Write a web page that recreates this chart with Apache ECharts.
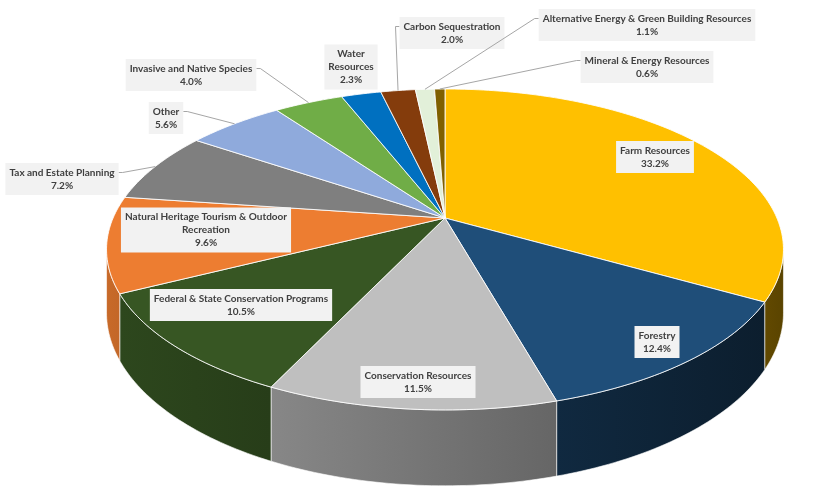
<!DOCTYPE html>
<html>
<head>
<meta charset="utf-8">
<script src="https://cdn.jsdelivr.net/npm/echarts@6/dist/echarts.min.js"></script>
<style>
  html, body { margin: 0; padding: 0; background: #fff; }
  #main { width: 837px; height: 501px; }
</style>
</head>
<body>
<div id="main"></div>
<script>
// 数据
var categories = ['Farm Resources', 'Forestry', 'Conservation Resources', 'Federal & State Conservation Programs',
  'Natural Heritage Tourism & Outdoor Recreation', 'Tax and Estate Planning', 'Other', 'Invasive and Native Species',
  'Water Resources', 'Carbon Sequestration', 'Alternative Energy & Green Building Resources', 'Mineral & Energy Resources'];
var shares = [33.2, 12.4, 11.5, 10.5, 9.6, 7.2, 5.6, 4.0, 2.3, 2.0, 1.1, 0.6];
var labelNames = ['Farm Resources', 'Forestry', 'Conservation Resources', 'Federal & State Conservation Programs',
  'Natural Heritage Tourism & Outdoor\nRecreation', 'Tax and Estate Planning', 'Other', 'Invasive and Native Species',
  'Water\nResources', 'Carbon Sequestration', 'Alternative Energy & Green Building Resources', 'Mineral & Energy Resources'];

// 样式
var colors = ['#FFC000', '#1F4E79', '#BFBFBF', '#375623', '#ED7D31', '#7F7F7F',
  '#8FAADC', '#70AD47', '#0070C0', '#843C0C', '#E2F0D9', '#7F6000'];
var labelPos = [[655, 157], [657, 342], [418, 382], [241, 305], [206, 230], [62, 179],
  [166, 118], [191, 75], [351, 67], [452, 33], [647, 25], [647, 67]];
var showLeader = [0, 0, 0, 0, 0, 1, 1, 1, 0, 1, 1, 1];
var FONT = 'bold 10px Lato, sans-serif';
var LINE_H = 13, PAD = [3, 4];

// 透视参数
var CX = 445, CY = 218, A = 331.9, B = 154.3, K = 0.196, D = 61;
var WALL_FROM = 101.3, WALL_TO = 258.7;

function proj(deg) {
  var r = deg * Math.PI / 180;
  var u = Math.sin(r), v = -Math.cos(r);
  var s = 1 / (1 - K * v);
  return { x: CX + A * u * s, y: CY + B * v * s, d: D * s, u: u };
}

function arc(a0, a1) {
  var pts = [];
  var n = Math.max(2, Math.ceil((a1 - a0) / 1));
  for (var j = 0; j <= n; j++) {
    pts.push(proj(a0 + (a1 - a0) * j / n));
  }
  return pts;
}

function shade(hex, f) {
  var c = parseInt(hex.slice(1), 16);
  var r = Math.round(((c >> 16) & 255) * f), g = Math.round(((c >> 8) & 255) * f), b = Math.round((c & 255) * f);
  return 'rgb(' + r + ',' + g + ',' + b + ')';
}

var total = shares.reduce(function (s, x) { return s + x; }, 0);
var seriesData = [];
var acc = 0;
for (var i = 0; i < shares.length; i++) {
  var a0 = acc / total * 360;
  acc += shares[i];
  seriesData.push({ name: categories[i], value: [shares[i], a0, acc / total * 360] });
}

var ctx = document.createElement('canvas').getContext('2d');
ctx.font = FONT;
function textWidth(t) {
  return Math.max.apply(null, t.split('\n').map(function (l) { return ctx.measureText(l).width; }));
}

function renderWall(params, api) {
  var i = params.dataIndex;
  var lo = Math.max(api.value(1), WALL_FROM), hi = Math.min(api.value(2), WALL_TO);
  if (lo >= hi) return { type: 'group', children: [] };
  var top = arc(lo, hi);
  var pts = top.map(function (p) { return [p.x, p.y]; });
  for (var j = top.length - 1; j >= 0; j--) pts.push([top[j].x, top[j].y + top[j].d]);
  var xs = pts.map(function (p) { return p[0]; });
  var x0 = Math.min.apply(null, xs), x1 = Math.max.apply(null, xs);
  var uL = Math.min(top[0].u, top[top.length - 1].u), uR = Math.max(top[0].u, top[top.length - 1].u);
  var grad = new echarts.graphic.LinearGradient(x0, 0, x1 + 0.01, 0, [
    { offset: 0, color: shade(colors[i], 0.6 - 0.25 * uL) },
    { offset: 1, color: shade(colors[i], 0.6 - 0.25 * uR) }
  ], true);
  return {
    type: 'polygon',
    shape: { points: pts },
    style: { fill: grad, stroke: 'rgba(255,255,255,0.75)', lineWidth: 0.8 }
  };
}

function renderTop(params, api) {
  var i = params.dataIndex;
  var pts = [[CX, CY]].concat(arc(api.value(1), api.value(2)).map(function (p) { return [p.x, p.y]; }));
  return {
    type: 'polygon',
    shape: { points: pts },
    style: { fill: colors[i], stroke: 'rgba(255,255,255,0.85)', lineWidth: 1 }
  };
}

function renderLabel(params, api) {
  var i = params.dataIndex;
  var txt = labelNames[i] + '\n' + api.value(0).toFixed(1) + '%';
  var pos = labelPos[i];
  var lines = txt.split('\n').length;
  var halfW = textWidth(txt) / 2 + PAD[1];
  var halfH = lines * LINE_H / 2 + PAD[0];
  var children = [];
  if (showLeader[i]) {
    var rim = proj((api.value(1) + api.value(2)) / 2);
    var ay = pos[1] - halfH + PAD[0] + LINE_H / 2;
    var ax, sx;
    if (rim.x < pos[0] - halfW) { ax = pos[0] - halfW; sx = ax - 4; }
    else { ax = pos[0] + halfW; sx = ax + 4; }
    children.push({
      type: 'polyline',
      shape: { points: [[ax, ay], [sx, ay], [rim.x, rim.y]] },
      style: { stroke: '#a6a6a6', lineWidth: 1, fill: null }
    });
  }
  children.push({
    type: 'text',
    x: pos[0], y: pos[1],
    style: {
      text: txt, font: FONT, fill: '#404040', align: 'center', verticalAlign: 'middle',
      lineHeight: LINE_H, backgroundColor: '#F2F2F2', padding: PAD
    }
  });
  return { type: 'group', children: children };
}

var myChart = echarts.init(document.getElementById('main'));
myChart.setOption({
  backgroundColor: '#fff',
  animation: false,
  series: [
    { type: 'custom', name: 'wall', coordinateSystem: 'none', z: 1, renderItem: renderWall, data: seriesData, silent: true },
    { type: 'custom', name: 'top', coordinateSystem: 'none', z: 2, renderItem: renderTop, data: seriesData },
    { type: 'custom', name: 'label', coordinateSystem: 'none', z: 3, renderItem: renderLabel, data: seriesData, silent: true }
  ]
});
</script>
</body>
</html>
